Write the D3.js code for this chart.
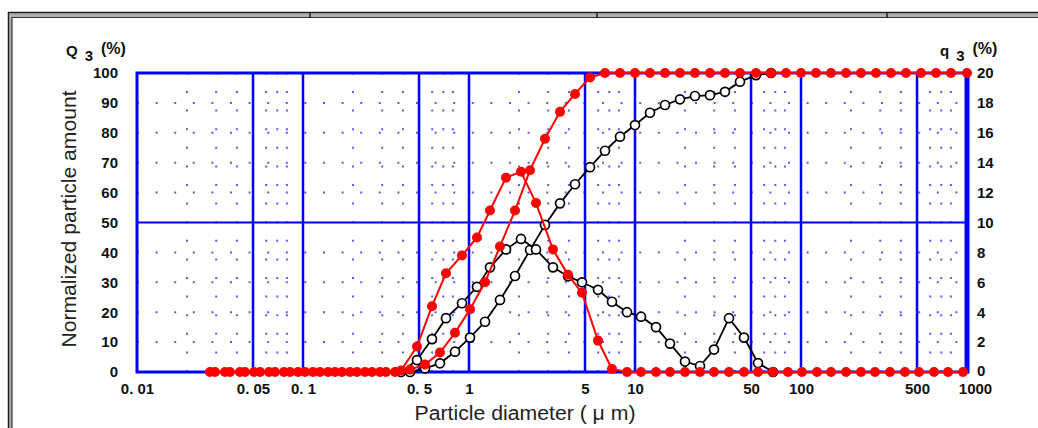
<!DOCTYPE html>
<html>
<head>
<meta charset="utf-8">
<script src="https://cdn.jsdelivr.net/npm/d3@7"></script>
<style>
  body { margin: 0; background: #fff; }
  svg { display: block; font-family: "Liberation Sans", Arial, sans-serif; }
</style>
</head>
<body>
<div class="chart"></div>
<script>
// particle sizes (um) and values
// red, cumulative Q3 (%) - left axis
const redCumSize = [0.0295, 0.0363, 0.0447, 0.0551, 0.0678, 0.0835, 0.1028, 0.1266, 0.1559, 0.1919, 0.2363, 0.2910, 0.3583,
  0.4412, 0.5431, 0.6687, 0.8235, 1.014, 1.249, 1.537, 1.893, 2.331, 2.870, 3.534, 4.351, 5.357,
  6.597, 8.122, 10.0, 12.31, 15.16, 18.67, 22.98, 28.30, 34.84, 42.90, 53.57, 65.97, 81.22, 100,
  123.1, 151.6, 186.7, 229.8, 283.0, 348.4, 429.0, 528.3, 650.5, 801.0, 1000]
const redCumValue = [0, 0, 0, 0, 0, 0, 0, 0, 0, 0, 0, 0, 0,
  0.8, 2.5, 6.5, 13.1, 21, 30, 42, 54, 67.5, 78, 87, 93, 98.5,
  100, 100, 100, 100, 100, 100, 100, 100, 100, 100, 100, 100, 100, 100,
  100, 100, 100, 100, 100, 100, 100, 100, 100, 100, 100]

// red, frequency q3 (%) - right axis
const redFreqSize = [0.0275, 0.0339, 0.0417, 0.0507, 0.0624, 0.0768, 0.0933, 0.1149, 0.1415, 0.1717, 0.2115, 0.2604, 0.3162,
  0.3895, 0.486, 0.5985, 0.7267, 0.9073, 1.117, 1.338, 1.671, 2.057, 2.533, 3.206, 3.949, 4.794, 5.985, 7.267,
  8.95, 10.87, 13.38, 16.25, 20.01, 24.64, 29.92, 36.84, 45.36, 55.08, 67.82, 83.52,
  101.4, 124.9, 151.6, 186.7, 229.8, 279.1, 343.7, 423.2, 513.8, 632.9, 768.4, 946.0]
const redFreqValue = [0, 0, 0, 0, 0, 0, 0, 0, 0, 0, 0, 0, 0,
  0.1, 1.7, 4.4, 6.6, 7.8, 9.0, 10.8, 13.0, 13.4, 11.3, 8.2, 6.5, 5.3, 2.1, 0.2,
  0, 0, 0, 0, 0, 0, 0, 0, 0, 0, 0, 0,
  0, 0, 0, 0, 0, 0, 0, 0, 0, 0, 0, 0]

// black, cumulative Q3 (%) - left axis
const blackCumSize = [0.4412, 0.5431, 0.6687, 0.8235, 1.014, 1.249, 1.537, 1.893, 2.331, 2.870, 3.534, 4.351, 5.357,
  6.597, 8.122, 10.0, 12.31, 15.16, 18.67, 22.98, 28.30, 34.84, 42.90, 53.57, 65.97]
const blackCumValue = [0, 1.2, 2.9, 6.8, 11.5, 16.8, 24.1, 32.1, 40.8, 49.2, 56.4, 62.8, 68.5,
  74, 78.7, 82.6, 86.7, 89.3, 91.2, 92.3, 92.6, 93.7, 97.1, 99.3, 100]

// black, frequency q3 (%) - right axis
const blackFreqSize = [0.3895, 0.486, 0.5985, 0.7267, 0.9073, 1.117, 1.338, 1.671, 2.057, 2.533, 3.206, 3.949, 4.794,
  5.985, 7.267, 8.95, 10.87, 13.38, 16.25, 20.01, 24.64, 29.92, 36.84, 45.36, 55.08, 67.82]
const blackFreqValue = [0, 0.8, 2.2, 3.6, 4.6, 5.7, 7.0, 8.2, 8.9, 8.2, 7.0, 6.4, 6.0,
  5.5, 4.7, 4.0, 3.7, 3.0, 1.9, 0.7, 0.4, 1.5, 3.6, 2.3, 0.6, 0]

// axis ticks
const xTicks = [0.01, 0.05, 0.1, 0.5, 1, 5, 10, 50, 100, 500, 1000]
const xTickLabels = ["0. 01", "0. 05", "0. 1", "0. 5", "1", "5", "10", "50", "100", "500", "1000"]
const xMajorGrid = [0.05, 0.1, 0.5, 1, 5, 10, 50, 100, 500]
const xMinorGrid = [0.02, 0.03, 0.04, 0.06, 0.07, 0.08, 0.2, 0.3, 0.4, 0.6, 0.7, 0.8,
  2, 3, 4, 6, 7, 8, 20, 30, 40, 60, 70, 80, 200, 300, 400, 600, 700, 800]
const leftTicks = [0, 10, 20, 30, 40, 50, 60, 70, 80, 90, 100]
const rightTicks = [0, 2, 4, 6, 8, 10, 12, 14, 16, 18, 20]

const W = 1038, H = 428
const plot = {left: 137, right: 967, top: 73, bottom: 372}
const blue = "#0000ff", red = "#ff0000"

const svg = d3.select(".chart").append("svg")
  .attr("width", W).attr("height", H)

// page frame (table border of the source document)
const frame = svg.append("g")
frame.append("rect").attr("x", 8).attr("y", 12).attr("width", W - 8).attr("height", 6).attr("fill", "#b0b0b0")
frame.append("rect").attr("x", 8).attr("y", 12).attr("width", 4).attr("height", H - 12).attr("fill", "#b0b0b0")
frame.append("line").attr("x1", 8).attr("x2", W).attr("y1", 12.5).attr("y2", 12.5).attr("stroke", "#222").attr("stroke-width", 1.5)
frame.append("line").attr("x1", 12).attr("x2", W).attr("y1", 17.5).attr("y2", 17.5).attr("stroke", "#333").attr("stroke-width", 1.2)
frame.append("line").attr("x1", 8.5).attr("x2", 8.5).attr("y1", 12).attr("y2", H).attr("stroke", "#222").attr("stroke-width", 1.5)
frame.append("line").attr("x1", 12).attr("x2", 12).attr("y1", 17).attr("y2", H).attr("stroke", "#333").attr("stroke-width", 1.2)
frame.selectAll(".div").data([310, 597, 887]).join("line")
  .attr("x1", d => d).attr("x2", d => d).attr("y1", 12).attr("y2", 18)
  .attr("stroke", "#222").attr("stroke-width", 1.5)

// scales
const x = d3.scaleLog().domain([0.01, 1000]).range([plot.left, plot.right])
const yL = d3.scaleLinear().domain([0, 100]).range([plot.bottom, plot.top])
const yR = d3.scaleLinear().domain([0, 20]).range([plot.bottom, plot.top])

// dotted grid
const grid = svg.append("g")
grid.selectAll(".vminor").data(xMinorGrid).join("line")
  .attr("x1", d => x(d)).attr("x2", d => x(d))
  .attr("y1", plot.bottom).attr("y2", plot.top)
  .attr("stroke", "#5a5aff").attr("stroke-width", 2)
  .attr("stroke-dasharray", "2,16.6")
grid.selectAll(".hminor").data(leftTicks.filter(d => d > 0 && d < 100 && d != 50)).join("line")
  .attr("x1", plot.left).attr("x2", plot.right)
  .attr("y1", d => yL(d)).attr("y2", d => yL(d))
  .attr("stroke", "#5a5aff").attr("stroke-width", 2)
  .attr("stroke-dasharray", "2,16.6")

// solid grid
grid.selectAll(".vmajor").data(xMajorGrid).join("line")
  .attr("x1", d => x(d)).attr("x2", d => x(d))
  .attr("y1", plot.bottom).attr("y2", plot.top)
  .attr("stroke", blue).attr("stroke-width", 2.5)
grid.append("line")
  .attr("x1", plot.left).attr("x2", plot.right)
  .attr("y1", yL(50)).attr("y2", yL(50))
  .attr("stroke", blue).attr("stroke-width", 2)
grid.append("rect")
  .attr("x", plot.left).attr("y", plot.top)
  .attr("width", plot.right - plot.left).attr("height", plot.bottom - plot.top)
  .attr("fill", "none").attr("stroke", blue).attr("stroke-width", 3)
grid.append("line")
  .attr("x1", plot.right).attr("x2", plot.right)
  .attr("y1", plot.top - 1.5).attr("y2", plot.bottom + 1.5)
  .attr("stroke", blue).attr("stroke-width", 5)

// axes
const xAxis = svg.append("g")
  .attr("transform", `translate(0,${plot.bottom + 8})`)
  .call(d3.axisBottom(x).tickValues(xTicks).tickSize(0)
    .tickFormat((d, i) => xTickLabels[i]))
const yAxisL = svg.append("g")
  .attr("transform", `translate(${plot.left - 16},0)`)
  .call(d3.axisLeft(yL).tickValues(leftTicks).tickSize(0))
const yAxisR = svg.append("g")
  .attr("transform", `translate(${plot.right + 7},0)`)
  .call(d3.axisRight(yR).tickValues(rightTicks).tickSize(0))
for (const a of [xAxis, yAxisL, yAxisR]) {
  a.select(".domain").remove()
  a.selectAll("text")
    .attr("fill", "#111")
    .attr("font-size", "15px")
    .attr("font-weight", "bold")
    .attr("font-family", "Liberation Sans, Arial, sans-serif")
}
// the last x label sits a little right of its tick in the source
xAxis.selectAll("text").filter(d => d === 1000).attr("dx", 8)
yAxisR.selectAll("text").filter(d => d === 0).attr("dy", "0.25em")

// axis titles
svg.append("text")
  .attr("transform", `translate(76,219) rotate(-90)`)
  .attr("text-anchor", "middle")
  .attr("font-size", "20px")
  .attr("fill", "#222")
  .attr("textLength", 257).attr("lengthAdjust", "spacingAndGlyphs")
  .text("Normalized particle amount")
svg.append("text")
  .attr("x", 525).attr("y", 420)
  .attr("text-anchor", "middle")
  .attr("font-size", "20px")
  .attr("fill", "#222")
  .attr("textLength", 221).attr("lengthAdjust", "spacingAndGlyphs")
  .text("Particle diameter ( \u03bc m)")

// Q3 / q3 headers
const hdr = (x0, letter) => {
  const t = svg.append("text")
    .attr("x", x0).attr("y", 56)
    .attr("font-weight", "bold").attr("fill", "#111")
  t.append("tspan").attr("font-size", "15px").text(letter)
  t.append("tspan").attr("font-size", "15px").attr("dx", 7).attr("dy", 5).text("3")
  t.append("tspan").attr("font-size", "16px").attr("dx", 8).attr("dy", -7).text("(%)")
}
hdr(66, "Q")
hdr(940, "q")

// series
const series = [
  {size: blackCumSize, value: blackCumValue, y: yL, color: "#000", open: true},
  {size: blackFreqSize, value: blackFreqValue, y: yR, color: "#000", open: true},
  {size: redCumSize, value: redCumValue, y: yL, color: red, open: false},
  {size: redFreqSize, value: redFreqValue, y: yR, color: red, open: false}
]
series.forEach(s => {
  const pts = s.size.map((d, i) => [d, s.value[i]])
  const g = svg.append("g")
  g.append("path")
    .datum(pts)
    .attr("fill", "none")
    .attr("stroke", s.color)
    .attr("stroke-width", s.open ? 1.8 : 2)
    .attr("d", d3.line().x(d => x(d[0])).y(d => s.y(d[1])))
  g.selectAll("circle").data(pts).join("circle")
    .attr("cx", d => x(d[0]))
    .attr("cy", d => s.y(d[1]))
    .attr("r", s.open ? 4.5 : 5)
    .attr("fill", s.open ? "#fff" : red)
    .attr("stroke", s.open ? "#000" : "none")
    .attr("stroke-width", 1.7)
})
</script>
</body>
</html>
